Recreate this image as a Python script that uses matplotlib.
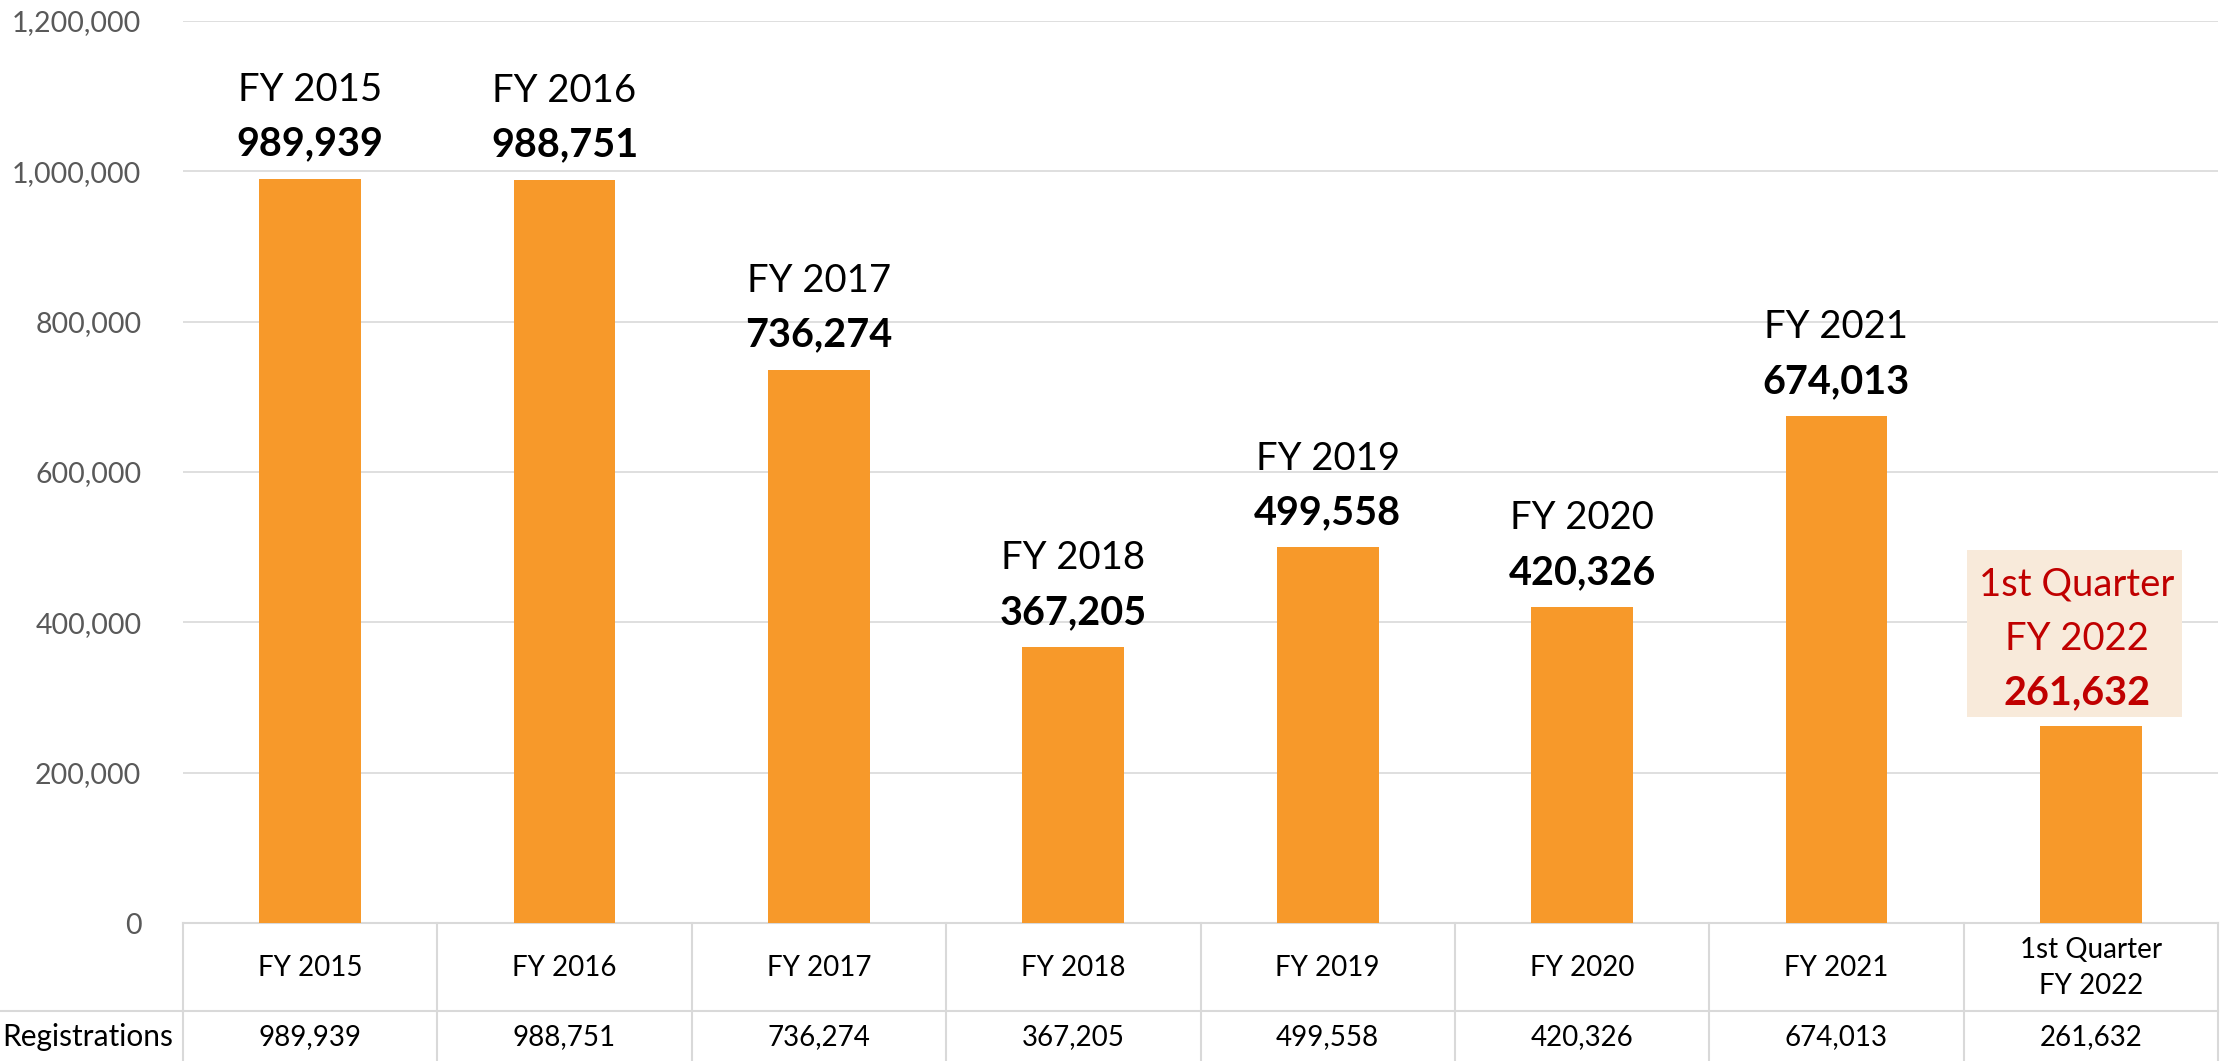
import numpy as np
import matplotlib.pyplot as plt
from matplotlib.patches import Rectangle
from matplotlib.ticker import FuncFormatter
from matplotlib.transforms import blended_transform_factory, Affine2D, ScaledTranslation

# data
categories = ['FY 2015', 'FY 2016', 'FY 2017', 'FY 2018', 'FY 2019',
              'FY 2020', 'FY 2021', '1st Quarter\nFY 2022']
registrations = [989939, 988751, 736274, 367205, 499558, 420326, 674013, 261632]
yticks = [0, 200000, 400000, 600000, 800000, 1000000, 1200000]

plt.rcParams['font.family'] = ['Lato', 'DejaVu Sans']

BAR = '#F7992A'
GRID = '#D9D9D9'
RED = '#C00000'
FS_REG = 27.5
FS_BOLD = 28.5
FS_TAB = 20

fig = plt.figure(figsize=(22.26, 10.61), dpi=100)
ax = fig.add_axes([183 / 2226, 138 / 1061, (2218 - 183) / 2226, 902 / 1061])

x = np.arange(len(categories))
ax.bar(x, registrations, width=0.4, color=BAR, zorder=3)

ax.set_xlim(-0.5, len(categories) - 0.5)
ax.set_ylim(0, 1200000)
ax.set_yticks(yticks)
ax.yaxis.set_major_formatter(FuncFormatter(lambda v, p: f'{int(v):,}'))
ax.tick_params(axis='y', length=0, pad=30, labelsize=20.5, labelcolor='#595959')
ax.set_xticks([])
ax.grid(axis='y', color=GRID, linewidth=1.2, zorder=0)
for s in ax.spines.values():
    s.set_visible(False)

# labels above bars
for i, v in enumerate(registrations[:-1]):
    ax.annotate(categories[i], (i, v), xytext=(0, 64), textcoords='offset points',
                ha='center', va='center', fontsize=FS_REG, color='black')
    ax.annotate(f'{v:,}', (i, v), xytext=(0, 25), textcoords='offset points',
                ha='center', va='center', fontsize=FS_BOLD, fontweight='bold', color='black')

# highlighted last bar with shaded box (box drawn in points relative to bar top)
i, v = len(registrations) - 1, registrations[-1]
dx = -10
box_tr = Affine2D().scale(fig.dpi / 72) + ScaledTranslation(i, v, ax.transData)
ax.add_patch(Rectangle((-89, 7), 155, 120, transform=box_tr, fc='#F8EADA', ec='none',
                       zorder=4, clip_on=False))
ax.annotate('1st Quarter', (i, v), xytext=(dx, 102), textcoords='offset points',
            ha='center', va='center', fontsize=FS_REG, color=RED, zorder=5)
ax.annotate('FY 2022', (i, v), xytext=(dx, 63), textcoords='offset points',
            ha='center', va='center', fontsize=FS_REG, color=RED, zorder=5)
ax.annotate(f'{v:,}', (i, v), xytext=(dx, 24), textcoords='offset points',
            ha='center', va='center', fontsize=FS_BOLD, fontweight='bold', color=RED, zorder=5)

# data table below the axis
tr = blended_transform_factory(ax.transData, ax.transAxes)
y_head = (923 - 968) / 902
y_sep = (923 - 1011) / 902
y_val = (923 - 1037) / 902
y_bot = -0.2
n = len(categories)
ax.plot([-0.5, n - 0.5], [0, 0], transform=tr, color=GRID, lw=1.5, clip_on=False)
for k in range(n + 1):
    ax.plot([k - 0.5, k - 0.5], [0, y_bot], transform=tr, color=GRID, lw=1.5, clip_on=False)
ax.plot([0, 1], [y_sep, y_sep], transform=ax.transAxes, color=GRID, lw=1.5, clip_on=False)
fig.add_artist(plt.Line2D([0, 183 / 2226], [(1061 - 1011) / 1061] * 2, color=GRID, lw=1.5))

for k, (c, v) in enumerate(zip(categories, registrations)):
    ax.text(k, y_head, c, transform=tr, ha='center', va='center', fontsize=FS_TAB,
            linespacing=1.5, color='black', clip_on=False)
    ax.text(k, y_val, f'{v:,}', transform=tr, ha='center', va='center', fontsize=FS_TAB,
            color='black', clip_on=False)
fig.text(2 / 2226, (1061 - 1037) / 1061, 'Registrations', ha='left', va='center',
         fontsize=21.5, color='black')

fig.savefig('out.png', dpi=100)
